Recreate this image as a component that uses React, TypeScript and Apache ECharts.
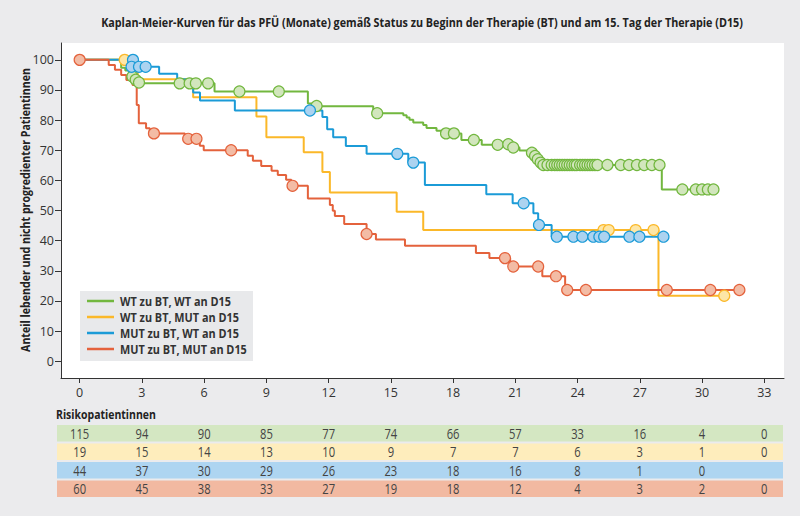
import React, { useEffect, useRef } from "react";
import * as echarts from "echarts";

const FONT = '"Open Sans", "Noto Sans", "DejaVu Sans", sans-serif';

const xTicks = [0, 3, 6, 9, 12, 15, 18, 21, 24, 27, 30, 33];
const yTicks = [0, 10, 20, 30, 40, 50, 60, 70, 80, 90, 100];

const seriesNames = [
  "WT zu BT, WT an D15",
  "WT zu BT, MUT an D15",
  "MUT zu BT, WT an D15",
  "MUT zu BT, MUT an D15",
];

const chartTitle =
  "Kaplan-Meier-Kurven für das PFÜ (Monate) gemäß Status zu Beginn der Therapie (BT) und am 15. Tag der Therapie (D15)";
const yTitle = "Anteil lebender und nicht progredienter Patientinnen";
const riskTitle = "Risikopatientinnen";

// Kaplan-Meier steps: [month, percent] (value holds until next time)
const stepsWTWT = [
  [0, 100], [2.0, 97.4], [2.2, 96.5], [2.4, 95.6], [2.5, 94.7], [2.65, 93.9], [2.8, 93.0], [2.9, 92.2],
  [6.5, 89.5], [11.0, 85.5], [11.3, 84.6], [14.15, 82.3], [15.6, 81.6], [15.76, 80.9], [15.9, 80.1],
  [16.08, 79.2], [16.56, 78.4], [16.72, 77.4], [17.2, 76.5], [17.45, 75.6], [18.4, 73.4], [19.38, 71.8],
  [20.8, 70.9], [21.2, 69.9], [21.75, 69.2], [21.9, 68.1], [22.05, 67.0], [22.2, 65.9], [22.3, 65.1],
  [28.06, 57.0], [30.55, 57.0],
];
const stepsWTMUT = [
  [0, 100], [2.45, 96.8], [2.8, 93.6], [5.47, 87.6], [8.52, 81.2], [9.0, 74.3], [10.8, 69.3],
  [11.7, 62.8], [12.06, 56.0], [15.28, 49.6], [16.56, 43.5], [27.9, 21.7], [31.07, 21.7],
];
const stepsMUTWT = [
  [0, 100], [2.45, 97.7], [3.83, 95.4], [4.7, 93.6], [5.47, 89.2], [5.8, 86.5], [7.48, 83.2],
  [11.7, 81.0], [11.93, 77.0], [12.22, 74.3], [12.83, 71.4], [13.83, 68.8], [15.84, 65.9],
  [16.64, 58.5], [19.6, 55.4], [20.87, 52.4], [21.87, 49.1], [22.1, 45.2], [22.75, 41.3], [28.14, 41.3],
];
const stepsMUTMUT = [
  [0, 100], [1.4, 98.3], [1.7, 96.7], [2.0, 95.0], [2.25, 93.3], [2.55, 91.7], [2.75, 85.0], [2.85, 79.0],
  [3.2, 77.3], [3.38, 75.6], [5.07, 73.8], [5.79, 71.5], [5.98, 70.0], [8.1, 68.2], [8.35, 66.5],
  [8.75, 64.8], [9.25, 63.2], [9.55, 61.8], [9.95, 60.2], [10.2, 58.2], [11.0, 54.0], [12.06, 51.8],
  [12.2, 49.9], [12.3, 48.2], [12.75, 45.5], [13.83, 42.2], [14.28, 40.4], [15.68, 38.3], [19.1, 35.9],
  [19.75, 34.2], [20.75, 31.4], [22.3, 28.2], [23.4, 23.6], [31.8, 23.6],
];

// censored observations: [month, percent]
const censWTWT = [
  [2.54, 94.5], [2.7, 93.4], [2.86, 92.5], [4.82, 92.2], [5.3, 92.2], [5.6, 92.2], [6.19, 92.2],
  [7.7, 89.5], [9.6, 89.5], [11.42, 84.7], [14.34, 82.3], [17.66, 75.6], [18.04, 75.6], [19.0, 73.4],
  [20.15, 71.8], [20.66, 72.0], [20.9, 70.9], [21.8, 69.2], [21.95, 68.1], [22.08, 67.0], [22.22, 65.9],
  [22.35, 65.1], [22.55, 65.1], [22.75, 65.1], [22.9, 65.1], [23.02, 65.1], [23.14, 65.1], [23.26, 65.1],
  [23.38, 65.1], [23.5, 65.1], [23.62, 65.1], [23.74, 65.1], [23.86, 65.1], [23.96, 65.1], [24.12, 65.1],
  [24.24, 65.1], [24.36, 65.1], [24.48, 65.1], [24.6, 65.1], [24.72, 65.1], [24.84, 65.1], [24.96, 65.1],
  [25.44, 65.1], [26.08, 65.1], [26.48, 65.1], [26.86, 65.1], [27.21, 65.1], [27.58, 65.1], [27.95, 65.1],
  [29.05, 57.0], [29.7, 57.0], [30.0, 57.0], [30.28, 57.0], [30.55, 57.0],
];
const censWTMUT = [
  [2.17, 100], [25.25, 43.5], [25.5, 43.5], [26.8, 43.5], [27.66, 43.5], [31.07, 21.7],
];
const censMUTWT = [
  [2.57, 100], [2.5, 97.7], [2.86, 97.7], [3.18, 97.7], [11.1, 83.2], [15.31, 68.8], [16.08, 65.9],
  [21.4, 52.4], [22.14, 45.2], [23.0, 41.3], [23.8, 41.3], [24.23, 41.3], [24.76, 41.3], [25.05, 41.3],
  [25.28, 41.3], [26.5, 41.3], [26.98, 41.3], [28.14, 41.3],
];
const censMUTMUT = [
  [0, 100], [3.58, 75.6], [5.23, 73.8], [5.63, 73.8], [7.3, 70.0], [10.26, 58.2], [13.83, 42.2],
  [20.5, 34.2], [20.9, 31.4], [22.1, 31.4], [22.96, 28.2], [23.5, 23.6], [24.4, 23.6], [28.3, 23.6],
  [30.4, 23.6], [31.8, 23.6],
];

// numbers at risk at xTicks
const riskWTWT = [115, 94, 90, 85, 77, 74, 66, 57, 33, 16, 4, 0];
const riskWTMUT = [19, 15, 14, 13, 10, 9, 7, 7, 6, 3, 1, 0];
const riskMUTWT = [44, 37, 30, 29, 26, 23, 18, 16, 8, 1, 0];
const riskMUTMUT = [60, 45, 38, 33, 27, 19, 18, 12, 4, 3, 2, 0];

const lineColors = ["#72b73f", "#fbb829", "#1b9bd7", "#e4623c"];
const markerFills = ["#d2e6bd", "#fde6a6", "#acd3f0", "#f3bca5"];
const rowColors = ["#d4e7c2", "#feedbc", "#aed5f1", "#f2b9a1"];

function measure(text: string, font: string): number {
  const c = document.createElement("canvas");
  const ctx = c.getContext("2d");
  if (!ctx) return text.length * 7;
  ctx.font = font;
  return ctx.measureText(text).width || text.length * 7;
}

export default function App() {
  const ref = useRef<HTMLDivElement>(null);
  useEffect(() => {
    if (!ref.current) return;
    const chart = echarts.init(ref.current, undefined, { renderer: "svg" });
    const steps = [stepsWTWT, stepsWTMUT, stepsMUTWT, stepsMUTMUT];
    const cens = [censWTWT, censWTMUT, censMUTWT, censMUTMUT];
    const risks = [riskWTWT, riskWTMUT, riskMUTWT, riskMUTMUT];

    const riskData: number[][] = [];
    risks.forEach((r, row) => r.forEach((n, i) => riskData.push([xTicks[i], row, n])));

    const xMin = -0.9;
    const xMax = 33.95;

    const boldFont = (s: number) => `bold ${s}px "Open Sans"`;
    const titleScale = 642 / measure(chartTitle, boldFont(13));
    const riskTitleScale = 100 / measure(riskTitle, boldFont(13));
    const yTitleScale = 284 / measure(yTitle, boldFont(13));
    const legendScale = 127 / measure(seriesNames[3], boldFont(13));

    const legendItems: any[] = [
      { type: "rect", shape: { x: 80, y: 291, width: 173, height: 70 }, style: { fill: "#e8e9eb" } },
    ];
    seriesNames.forEach((nm, i) => {
      const y = 301 + i * 16;
      legendItems.push({
        type: "line", shape: { x1: 87, y1: y, x2: 114, y2: y },
        style: { stroke: lineColors[i], lineWidth: 2.5 },
      });
      legendItems.push({
        type: "text", x: 120, y, scaleX: legendScale,
        style: { text: nm, fontSize: 13, fontWeight: "bold", fontFamily: FONT, fill: "#333", align: "left", verticalAlign: "middle" },
      });
    });

    const option: any = {
      animation: false,
      backgroundColor: "#ebebed",
      textStyle: { fontFamily: FONT },
      grid: [
        { left: 61, right: 16, top: 43, bottom: 138, show: true, backgroundColor: "#ffffff", borderWidth: 0 },
        { left: 61, right: 16, top: 424, height: 74 },
      ],
      xAxis: [
        {
          gridIndex: 0, type: "value", min: xMin, max: xMax,
          axisLine: { show: true, onZero: false, lineStyle: { color: "#333", width: 1 } },
          axisTick: { show: true, customValues: xTicks, length: 5, lineStyle: { color: "#333" } },
          axisLabel: { customValues: xTicks, color: "#333", fontSize: 12.5, fontFamily: FONT, margin: 8 },
          splitLine: { show: false },
        },
        { gridIndex: 1, type: "value", min: xMin, max: xMax, show: false },
      ],
      yAxis: [
        {
          gridIndex: 0, type: "value", min: -5.6, max: 105.6,
          axisLine: { show: true, onZero: false, lineStyle: { color: "#333", width: 1 } },
          axisTick: { show: true, customValues: yTicks, length: 6, lineStyle: { color: "#333" } },
          axisLabel: { customValues: yTicks, color: "#333", fontSize: 12.5, fontFamily: FONT, margin: 7 },
          splitLine: { show: false },
        },
        { gridIndex: 1, type: "category", data: ["0", "1", "2", "3"], inverse: true, show: false },
      ],
      graphic: [
        {
          type: "text", x: 422, y: 22, scaleX: titleScale,
          style: { text: chartTitle, fontSize: 13, fontWeight: "bold", fontFamily: FONT, fill: "#222", align: "center", verticalAlign: "middle" },
        },
        {
          type: "text", x: 56, y: 413, scaleX: riskTitleScale,
          style: { text: riskTitle, fontSize: 13, fontWeight: "bold", fontFamily: FONT, fill: "#222", align: "left", verticalAlign: "middle" },
        },
        {
          type: "text", x: 25, y: 210, rotation: Math.PI / 2, scaleX: yTitleScale,
          style: { text: yTitle, fontSize: 13, fontWeight: "bold", fontFamily: FONT, fill: "#222", align: "center", verticalAlign: "middle" },
        },
        { type: "group", z: 10, children: legendItems },
      ],
      series: [
        ...steps.map((d, i) => ({
          name: seriesNames[i], type: "line", step: "end", data: d,
          xAxisIndex: 0, yAxisIndex: 0, symbol: "none", showSymbol: false,
          lineStyle: { color: lineColors[i], width: 2 }, itemStyle: { color: lineColors[i] },
          z: 2,
        })),
        ...cens.map((d, i) => ({
          name: "cens" + i, type: "scatter", data: d, xAxisIndex: 0, yAxisIndex: 0,
          symbol: "circle", symbolSize: 11,
          itemStyle: { color: markerFills[i], borderColor: lineColors[i], borderWidth: 1.2, opacity: 1 },
          z: 3,
        })),
        {
          name: "rows", type: "custom", xAxisIndex: 1, yAxisIndex: 1,
          data: [[0, 0], [0, 1], [0, 2], [0, 3]],
          encode: { x: 0, y: 1 },
          renderItem: (params: any, api: any) => {
            const row = api.value(1);
            const c = api.coord([0, row]);
            const bandH = api.size([0, 1])[1];
            const cs = params.coordSys;
            return {
              type: "rect",
              shape: { x: cs.x - 4, y: c[1] - bandH / 2 + 1, width: cs.width + 3, height: bandH - 2 },
              style: { fill: rowColors[row] },
            };
          },
          z: 1,
        },
        {
          name: "risk", type: "custom", xAxisIndex: 1, yAxisIndex: 1,
          data: riskData,
          encode: { x: 0, y: 1 },
          renderItem: (params: any, api: any) => {
            const c = api.coord([api.value(0), api.value(1)]);
            return {
              type: "text", x: c[0], y: c[1], scaleX: 0.8,
              style: { text: String(api.value(2)), fontSize: 14, fontFamily: FONT, fill: "#444", align: "center", verticalAlign: "middle" },
            };
          },
          z: 2,
        },
      ],
    };
    chart.setOption(option);
    return () => chart.dispose();
  }, []);
  return <div ref={ref} style={{ position: "absolute", left: 0, top: 0, width: 800, height: 516 }} />;
}
